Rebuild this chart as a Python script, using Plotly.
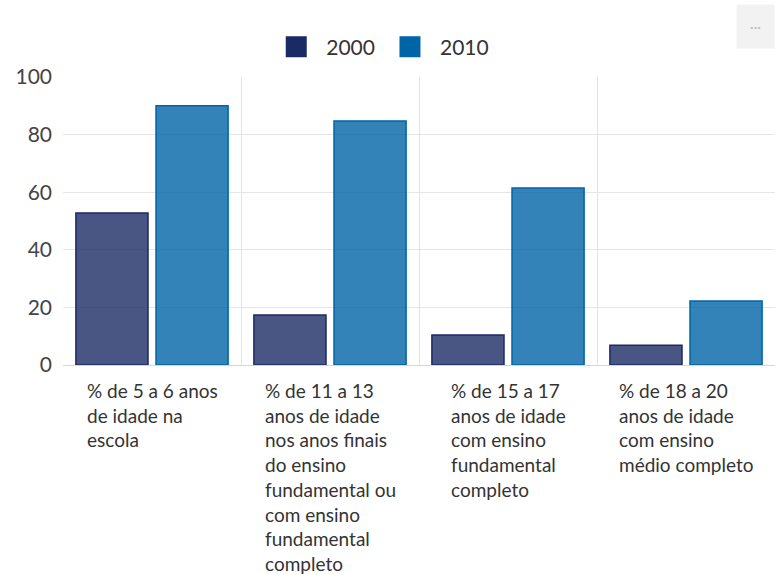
import plotly.graph_objects as go

categories = [
    "% de 5 a 6 anos<br>de idade na<br>escola",
    "% de 11 a 13<br>anos de idade<br>nos anos finais<br>do ensino<br>fundamental ou<br>com ensino<br>fundamental<br>completo",
    "% de 15 a 17<br>anos de idade<br>com ensino<br>fundamental<br>completo",
    "% de 18 a 20<br>anos de idade<br>com ensino<br>médio completo",
]
cat_keys = ["c1", "c2", "c3", "c4"]
values_2000 = [52.8, 17.4, 10.4, 6.9]
values_2010 = [90.0, 84.7, 61.5, 22.2]
series_names = ["2000", "2010"]
y_ticks = [0, 20, 40, 60, 80, 100]

navy = "#1b2a64"
blue = "#0064a8"
FONT = "Lato"

fig = go.Figure()
fig.add_trace(go.Bar(
    x=cat_keys, y=values_2000, name=series_names[0], showlegend=False,
    marker=dict(color="rgba(27,42,100,0.8)", line=dict(color=navy, width=1.5)),
))
fig.add_trace(go.Bar(
    x=cat_keys, y=values_2010, name=series_names[1], showlegend=False,
    marker=dict(color="rgba(0,100,168,0.8)", line=dict(color=blue, width=1.5)),
))
# legend entries with larger square symbols
for nm, col in zip(series_names, [navy, blue]):
    fig.add_trace(go.Scatter(
        x=[None], y=[None], mode="markers", name=nm,
        marker=dict(symbol="square", size=16, color=col, line=dict(color=col, width=5)),
    ))

for key, lab in zip(cat_keys, categories):
    fig.add_annotation(
        x=key, y=0, xref="x", yref="y", text=lab, showarrow=False,
        xanchor="center", yanchor="top", align="left", yshift=-12,
        font=dict(family=FONT, size=19, color="#333333"),
    )

fig.add_annotation(
    x=1, y=1.175, xref="paper", yref="paper", text="···", showarrow=False,
    xanchor="right", yanchor="middle", bgcolor="#f2f2f2",
    font=dict(family=FONT, size=14, color="#bbbbbb"), borderpad=13,
)

fig.update_layout(
    width=776, height=575,
    margin=dict(l=63, r=1, t=77, b=210, autoexpand=False),
    paper_bgcolor="white", plot_bgcolor="white",
    barmode="group", bargap=0.1, bargroupgap=0.1,
    font=dict(family=FONT, color="#444444"),
    legend=dict(
        orientation="h", xref="container", yref="container",
        x=0.49, y=1 - 47 / 575, xanchor="center", yanchor="middle",
        font=dict(family=FONT, size=21, color="#333333"),
        itemwidth=50,
    ),
    xaxis=dict(
        type="category", tickson="boundaries", showgrid=True,
        gridcolor="#e3e3e3", gridwidth=1, showticklabels=False,
        ticks="", showline=False, zeroline=False,
    ),
    yaxis=dict(
        range=[0, 100], tickvals=y_ticks, showgrid=True, gridcolor="#e6e6e6",
        zeroline=True, zerolinecolor="#d6d6d6", zerolinewidth=1,
        tickfont=dict(family=FONT, size=21, color="#444444"),
        ticklabelstandoff=10, showline=False,
    ),
)

fig.write_html("out.html")
